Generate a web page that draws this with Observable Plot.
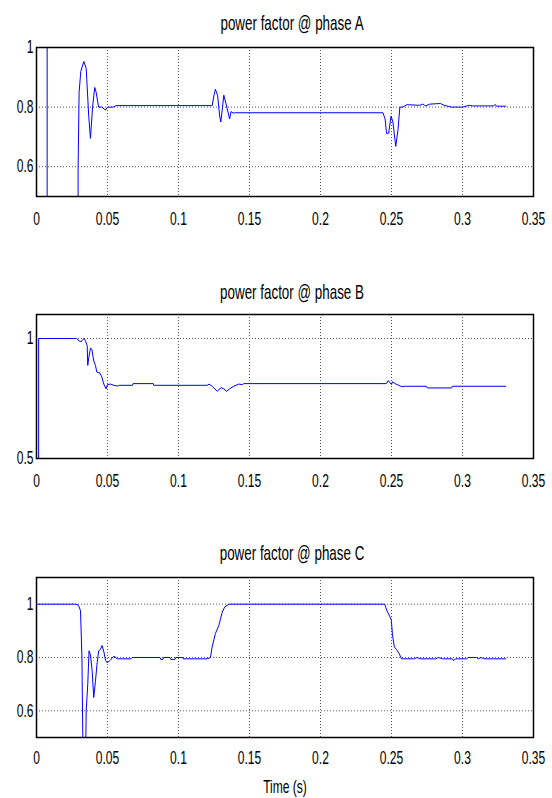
<!DOCTYPE html>
<html><head><meta charset="utf-8">
<script src="https://cdn.jsdelivr.net/npm/d3@7"></script>
<script src="https://cdn.jsdelivr.net/npm/@observablehq/plot@0.6"></script>
<style>body{margin:0;background:#fff} svg{display:block}</style>
</head><body><div id="chart"></div>
<script>
const xTicks = [0, 0.05, 0.1, 0.15, 0.2, 0.25, 0.3, 0.35];
const xTickLabels = ["0", "0.05", "0.1", "0.15", "0.2", "0.25", "0.3", "0.35"];
const titles = ["power factor @ phase A", "power factor @ phase B", "power factor @ phase C"];
const xLabel = "Time (s)";

const yTicksA = [0.6, 0.8, 1];
const yTicksB = [0.5, 1];
const yTicksC = [0.6, 0.8, 1];

const timeA = [0,0,0.0075,0.0075,0.0293,0.0293,0.0300,0.0312,0.0333,0.0350,0.0368,0.0380,0.0395,0.0410,0.0420,0.0437,0.0460,0.0485,0.0500,0.0540,0.0560,0.1237,0.1250,0.1260,0.1275,0.1290,0.1298,0.1310,0.1319,0.1335,0.1360,0.1370,0.1385,0.1400,0.2440,0.2455,0.2465,0.2480,0.2497,0.2510,0.2530,0.2545,0.2559,0.2580,0.2607,0.2700,0.2720,0.2740,0.2770,0.2845,0.2870,0.2923,0.3000,0.3050,0.3070,0.3220,0.3230,0.3240,0.3305];
const pfA = [0.3,1,1,0.3,0.3,0.59,0.85,0.92,0.953,0.93,0.768,0.695,0.80,0.866,0.85,0.80,0.80,0.79,0.80,0.80,0.805,0.805,0.84,0.86,0.84,0.77,0.75,0.80,0.84,0.81,0.76,0.785,0.78,0.781,0.781,0.76,0.712,0.712,0.77,0.75,0.668,0.72,0.80,0.80,0.808,0.806,0.810,0.804,0.810,0.812,0.806,0.800,0.800,0.806,0.804,0.804,0.809,0.803,0.803];

const timeB = [0,0.0015,0.0015,0.0282,0.0300,0.0315,0.0325,0.0335,0.0345,0.0357,0.0361,0.0368,0.0380,0.0390,0.0402,0.0415,0.0425,0.0445,0.0460,0.0474,0.0490,0.0500,0.0521,0.0545,0.0570,0.0584,0.0676,0.0680,0.0822,0.0826,0.1202,0.1215,0.1240,0.1272,0.1300,0.1320,0.1338,0.1360,0.1385,0.1423,0.1450,0.1460,0.2465,0.2477,0.2490,0.2500,0.2507,0.2525,0.2550,0.2570,0.2600,0.2746,0.2752,0.2923,0.2928,0.3305];
const pfB = [0.3,0.3,1,1,0.99,0.987,0.995,1.0,0.99,0.97,0.888,0.92,0.96,0.955,0.91,0.888,0.86,0.857,0.84,0.81,0.79,0.808,0.81,0.805,0.802,0.805,0.805,0.812,0.812,0.805,0.805,0.81,0.80,0.78,0.795,0.79,0.78,0.79,0.80,0.81,0.808,0.812,0.812,0.825,0.815,0.808,0.82,0.812,0.805,0.80,0.801,0.801,0.794,0.794,0.801,0.801];

const timeC = [0,0.0275,0.0290,0.0300,0.0310,0.0320,0.0330,0.0343,0.0350,0.0361,0.0370,0.0380,0.0392,0.0403,0.0415,0.0426,0.0438,0.0450,0.0462,0.0475,0.0486,0.0498,0.0520,0.0545,0.0570,0.0665,0.0673,0.0870,0.0875,0.0890,0.0895,0.0940,0.0945,0.0975,0.0980,0.1030,0.1033,0.1202,0.1225,0.1237,0.1260,0.1284,0.1296,0.1308,0.1326,0.1357,0.2452,0.2468,0.2487,0.2499,0.2507,0.2520,0.2535,0.2554,0.2570,0.2660,0.2680,0.2700,0.2810,0.2830,0.2860,0.2930,0.2937,0.2950,0.3030,0.3040,0.3100,0.3110,0.3130,0.3150,0.3305];
const pfC = [1,1,0.998,0.99,0.975,0.80,0.3,0.3,0.60,0.70,0.825,0.81,0.75,0.65,0.71,0.775,0.825,0.83,0.845,0.82,0.79,0.78,0.79,0.805,0.795,0.795,0.80,0.80,0.793,0.793,0.80,0.80,0.793,0.793,0.80,0.80,0.795,0.795,0.80,0.84,0.89,0.92,0.945,0.97,0.99,1.0,1.0,0.975,0.955,0.94,0.885,0.84,0.83,0.815,0.795,0.795,0.80,0.795,0.795,0.80,0.795,0.795,0.788,0.795,0.795,0.80,0.80,0.795,0.80,0.795,0.795];

const font = "'Liberation Sans',Arial,Helvetica,sans-serif";

function panel({time, pf, yDomain, yTicks, title, height, marginTop, marginBottom, tickPad, titleDy, withXLabel}) {
  const data = time.map((t, i) => ({t, v: pf[i]}));
  const marks = [
    Plot.gridX(xTicks, {stroke: "#555", strokeOpacity: 1, strokeDasharray: "1,2"}),
    Plot.gridY(yTicks, {stroke: "#555", strokeOpacity: 1, strokeDasharray: "1,2"}),
    Plot.line(data, {x: "t", y: "v", stroke: "#0000ff", strokeWidth: 1, clip: true}),
    Plot.frame({stroke: "black", strokeWidth: 1.5}),
    Plot.axisX(xTicks, {tickSize: 0, tickPadding: tickPad, tickFormat: d => xTickLabels[xTicks.indexOf(d)], fontSize: 18}),
    Plot.axisY(yTicks, {tickSize: 0, tickPadding: 3, tickFormat: d => String(d), fontSize: 18}),
    Plot.text([title], {text: d => d, frameAnchor: "top", lineAnchor: "middle", dy: titleDy, dx: 7, fontSize: 20, fill: "black"})
  ];
  if (withXLabel) marks.push(Plot.text([xLabel], {text: d => d, frameAnchor: "bottom", lineAnchor: "middle", dy: 50, fontSize: 18, fill: "black"}));
  const svg = Plot.plot({
    width: 552, height, marginLeft: 36, marginRight: 19, marginTop, marginBottom,
    style: {fontFamily: font, fontSize: "18px", background: "white", color: "black", overflow: "visible"},
    x: {domain: [0, 0.35], label: null},
    y: {domain: yDomain, label: null},
    marks
  });
  // condense the lettering horizontally, like the reference's narrow type
  svg.querySelectorAll("text").forEach(t => {
    const tr = t.getAttribute("transform");
    if (tr) t.setAttribute("transform", tr + " scale(0.67,1)");
  });
  return svg;
}

const chart = document.getElementById("chart");
chart.append(panel({time: timeA, pf: pfA, yDomain: [0.5, 1], yTicks: yTicksA, title: titles[0], height: 262, marginTop: 47, marginBottom: 66, tickPad: 16, titleDy: -24}));
chart.append(panel({time: timeB, pf: pfB, yDomain: [0.5, 1.1], yTicks: yTicksB, title: titles[1], height: 262, marginTop: 52, marginBottom: 66, tickPad: 16, titleDy: -22}));
chart.append(panel({time: timeC, pf: pfC, yDomain: [0.5, 1.1], yTicks: yTicksC, title: titles[2], height: 274, marginTop: 53, marginBottom: 61, tickPad: 14, titleDy: -24, withXLabel: true}));
</script>
</body></html>
